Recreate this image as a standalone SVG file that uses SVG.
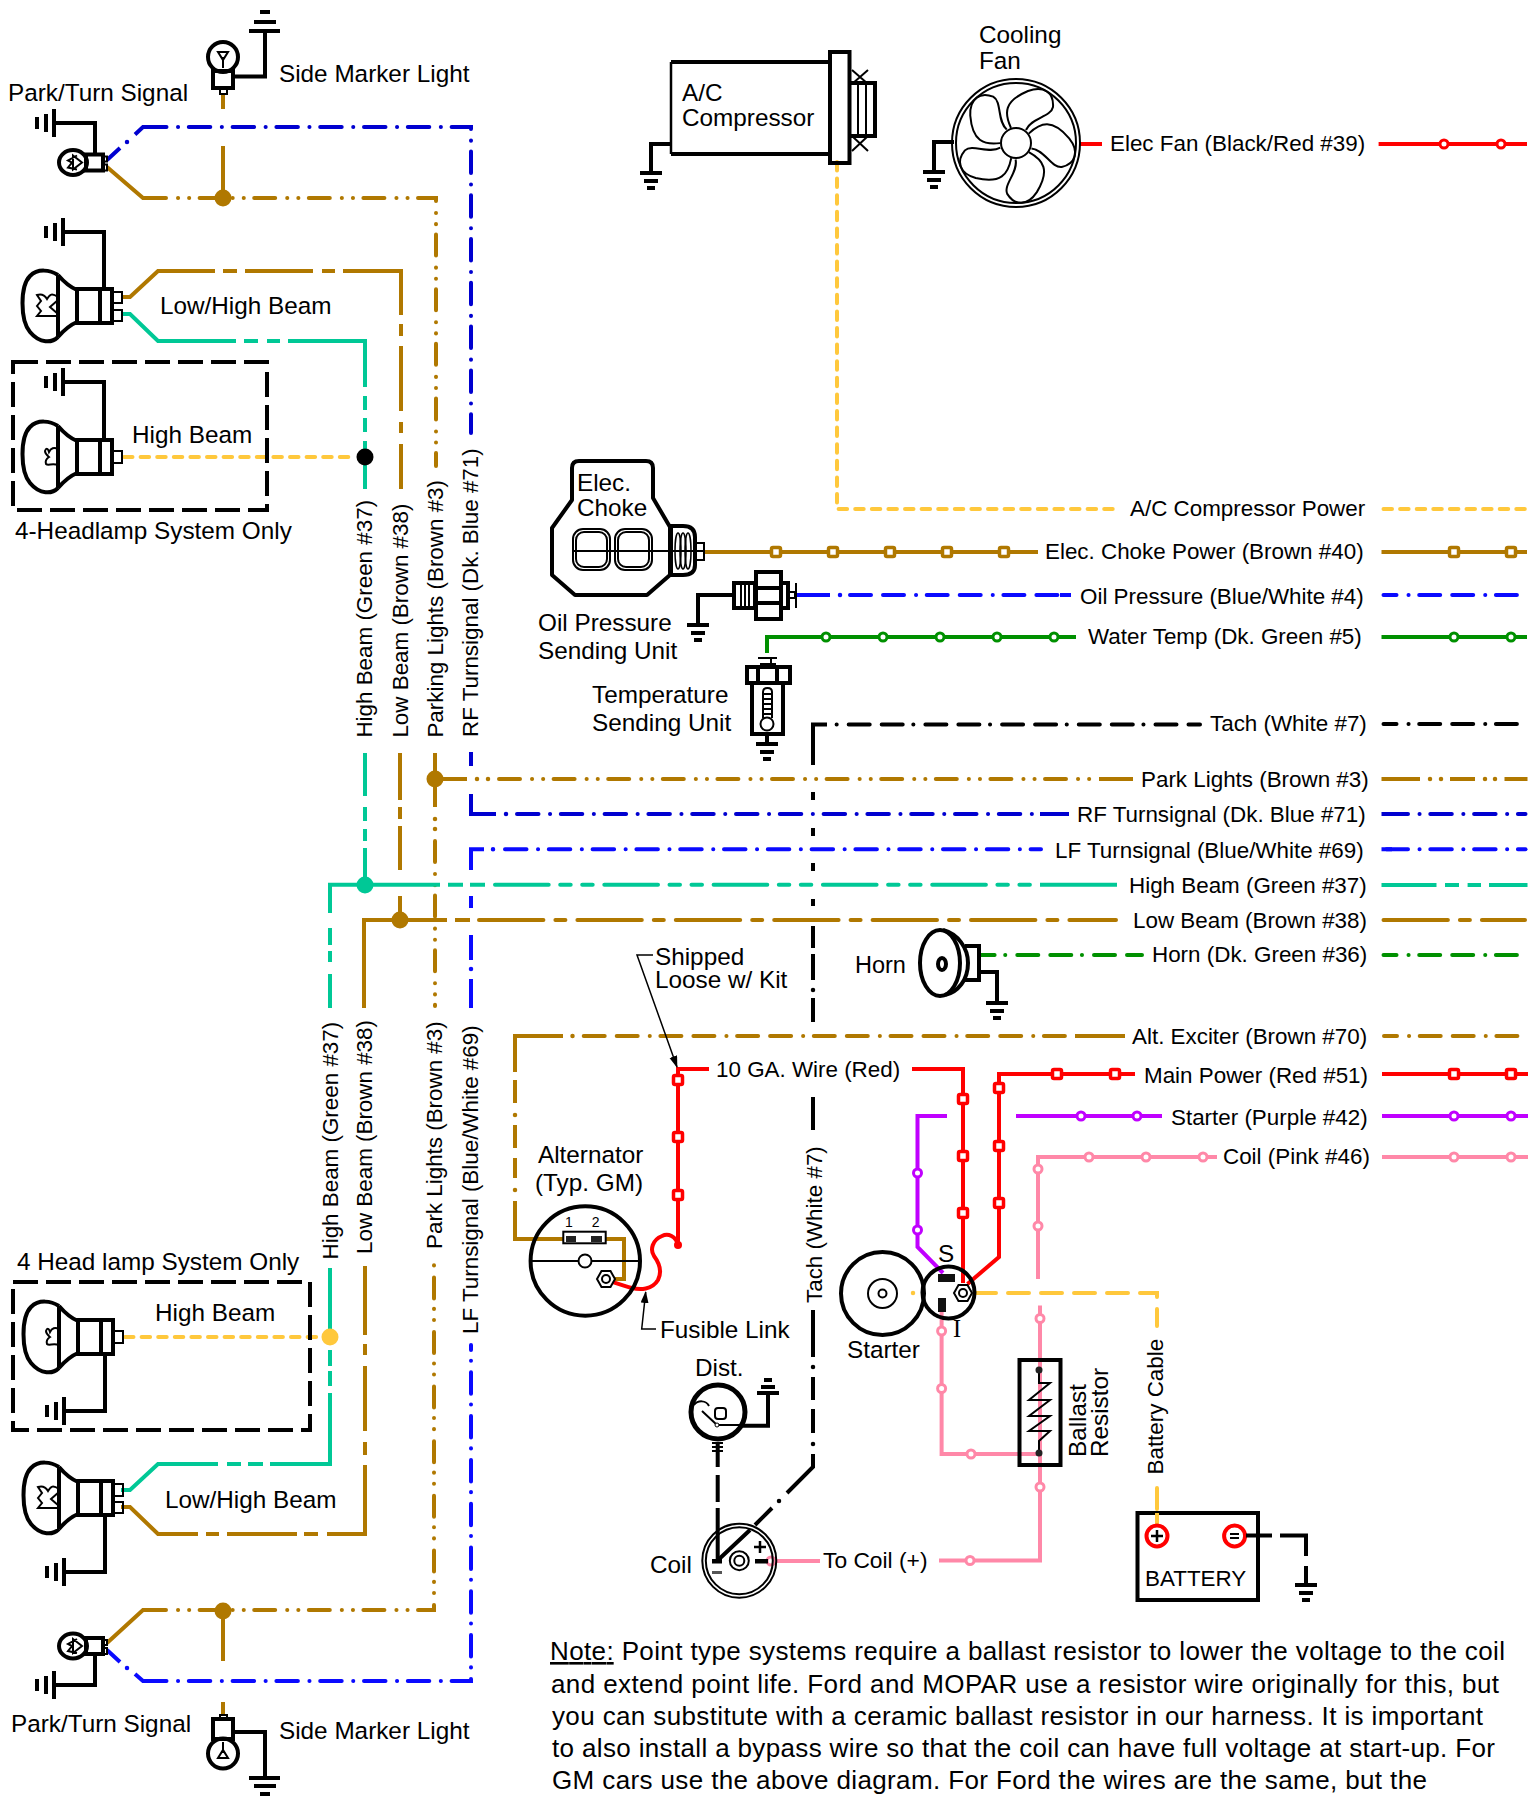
<svg xmlns="http://www.w3.org/2000/svg" width="1540" height="1798" viewBox="0 0 1540 1798">
<style>
text{font-family:"Liberation Sans",Arial,sans-serif;font-size:24.3px;fill:#000}
.s{font-size:22.4px}
.k{fill:none;stroke:#000;stroke-width:4}
.n{fill:none;stroke:#000;stroke-width:2}
.w{fill:none;stroke-width:4}
.d{fill:none;stroke-width:4.5;stroke-linecap:round}
.br{stroke:#B07800}.gn{stroke:#00C896}.ye{stroke:#FFC83C}.db{stroke:#0000D0}.bl{stroke:#0A0AFF}.dg{stroke:#009000}.re{stroke:#FF0000}.pu{stroke:#C000FF}.pk{stroke:#FF88A8}.bk{stroke:#000}
.p76{stroke-linecap:round;stroke-dasharray:21 12 21 12 .1 10.6}
.p44{stroke-linecap:round;stroke-dasharray:21.5 11.5 .1 10.7}
.p55{stroke-linecap:round;stroke-dasharray:21 12 .1 11 .1 10.4}
.p98{stroke-linecap:round;stroke-dasharray:64.4 12 10 12}
.p109{stroke-linecap:round;stroke-dasharray:53.7 11.5 10.5 11.5 10.5 11.6}
.py{stroke-linecap:round;stroke-dasharray:8.5 8.1}
.pb{stroke-linecap:round;stroke-dasharray:21 12}
</style>
<defs>
<g id="gd" class="k"><path d="M-11 0H11M-7 8H7M-4 15H4"/></g>
<g id="gl" class="k"><path d="M0 -14V14M-8 -9V9M-17 -6V6"/></g>
<rect id="sq" x="-4.500" y="-4.500" width="9" height="9" rx="1.500" fill="#fff" stroke-width="3.500"/>
<circle id="ci" r="4" fill="#fff" stroke-width="3"/>
<g id="lamp" class="k"><path d="M58 -31C50 -36 38 -38 30 -30C20 -20 20 14 30 26C40 38 52 37 58 31M58 -31V31M58 -31C64 -24 70 -19 77 -16M58 31C64 24 70 19 77 16"/><path d="M77 -17H112V17H77ZM100 -17V17"/></g>
<g id="filA" class="n"><path d="M58 -9C52 -13 50 -12 47 -7C44 -12 40 -12 37 -11L41 -5L37 0L41 5L37 10H58M58 -6L50 1L58 8"/></g>
<g id="filW" class="n"><path d="M58 -8C54 -10 51 -9 49 -5C48 -9 46 -9 45 -6C45 -3 48 -1 49 0C46 2 45 4 46 7C48 9 52 6 58 8"/></g>
<g id="pbulb"><ellipse cx="73" cy="0" rx="14" ry="12.500" class="k"/><path class="k" d="M86 -8H103V8H86Z"/><path class="n" d="M103 -6H107V-1H103M103 2H107V8H103M73 -7L82 0L73 7ZM77 -7L68 -2L72 0L68 5L77 7"/></g>
<g id="hex"><path d="M9 0L4.500 8H-4.500L-9 0L-4.500 -8H4.500Z" fill="#fff" stroke="#000" stroke-width="2"/><circle r="4" fill="none" stroke="#000" stroke-width="2"/></g>
<path id="blade" d="M-5 -15C-12 -30 -12 -42 12 -52C28 -58 38 -50 37 -36C35 -26 15 -25 10 -13"/>
<marker id="ah" markerWidth="12" markerHeight="10" refX="11" refY="4" orient="auto" markerUnits="userSpaceOnUse"><path d="M0 0L12 4L0 8Z" fill="#000"/></marker>
</defs>

<g id="connectors">
<!-- yellow -->
<path class="w ye py" d="M837 162V509H1117"/>
<path class="w ye py" d="M1383.500 509H1525"/>
<path class="w ye py" d="M124 457H355"/>
<path class="w ye py" d="M125 1337H320"/>
<path class="w ye pb" d="M975 1293H1157V1326"/>
<path class="w ye pb" d="M1157 1488V1526"/>
<path class="d ye" d="M913 1293h.01"/>
<!-- choke -->
<path class="w br" d="M703 552H1038M1381.500 552H1527"/>
<!-- oil -->
<path class="w bl" d="M795 595H830M1060 595H1071"/><path class="d bl" d="M840 595h.01"/>
<path class="w bl p76" d="M850 595H1058"/>
<path class="w bl p76" style="stroke-dashoffset:41" d="M1383.500 595H1517"/>
<!-- water -->
<path class="w dg" d="M767 653V637H1076M1381.500 637H1527"/>
<!-- tach -->
<path class="w bk p76" style="stroke-dashoffset:9.500" d="M1200 724.600H829"/>
<path class="w bk" d="M827 724.600H813V765M813 792V800M813 828V836M813 863V871M813 899V906M813 926V948M813 954V980M813 998V1022M813 1097V1130M813 1310V1357M813 1377V1400M813 1409V1433M813 1454V1467L787 1493M772 1508L755 1525M750 1530L717 1561"/>
<path class="d bk" d="M813 990h.01M813 1367h.01M813 1444h.01M779 1501h.01"/>
<path class="w bk p76" style="stroke-dashoffset:41" d="M1383.500 724H1517"/>
<path class="w bk" d="M717.700 1443V1467M717.700 1475V1502M717.700 1508V1561"/>
<!-- park lights -->
<path class="w br p55" d="M145 198H436V466"/>
<path class="w br" d="M107 167L143 198H147M223 94V109M223 146V198"/>
<path class="w br" d="M435 753V807M435 779H467M1099 779H1133"/><path class="d br" d="M435 819h.01M435 829h.01M477 779h.01M488 779h.01"/>
<path class="w br p55" d="M499 779H1097"/>
<path class="w br p55" d="M435 841V1006"/>
<path class="w br" d="M1381.500 779H1420M1450 779H1475M1504.500 779H1527.500"/><path class="d br" d="M1430 779h.01M1441 779h.01M1485 779h.01M1495 779h.01"/>
<path class="w br p55" d="M145 1610H434V1261"/>
<path class="w br" d="M107 1643L143 1610H147M223 1611V1661M223 1702V1715"/>
<!-- blue 71 -->
<path class="w db p44" d="M145 127H471V433"/>
<path class="w db" d="M107 160L120 148M135 134.500L143 127H147M471 752V766M471 794V814H496"/><path class="d db" d="M127 142h.01M506 814h.01"/>
<path class="w db p44" d="M517 814H1067"/>
<path class="w db" d="M1040 814H1069M1381.500 814H1392"/>
<path class="w db p44" style="stroke-dashoffset:40.800" d="M1383.500 814H1525.500"/>
<!-- LF 69 -->
<path class="w bl" d="M484 849.300H471V870M471 896V908M471 935V960M471 979V1008M1381.500 849.300H1392"/><path class="d bl" d="M493 849.300h.01M471 969h.01"/>
<path class="w bl p44" d="M505 849.300H1041"/>
<path class="w bl p44" style="stroke-dashoffset:40.800" d="M1383.500 849.300H1525.500"/>
<path class="w bl p44" d="M145 1681H471V1345"/>
<path class="w bl" d="M107 1650L120 1662M135 1674L143 1681H147"/><path class="d bl" d="M127 1668h.01"/>
<!-- high beam green -->
<path class="w gn" d="M121 314H130L158 341H236M244 341H258M267 341H280M288 341H365V387M365 396V410M365 418V432M365 441V489M365 753V796M365 807V821M365 829V841M365 848V885"/>
<path class="w gn" d="M330 1008V974M330 962V951M330 945V928M330 913V884.700H440M448 884.700H463M470 884.700H485M1040 884.700H1117"/>
<path class="w gn p109" d="M495 884.700H1038"/>
<path class="w gn" d="M1381.500 885H1436.500M1445 885H1459M1467.600 885H1481M1489 885H1527.500"/>
<path class="w gn" d="M330 1268V1340M330 1350V1366M330 1371V1386M330 1393V1464H270M263 1464H248M241 1464H227M218 1464H158L130 1490H121"/>
<!-- low beam brown -->
<path class="w br" d="M121 297H130L158 271H215M223 271H237M245 271H313M322 271H335M343 271H401V315M401 324V336M401 346V411M401 422V433M401 444V489"/>
<path class="w br" d="M400 753V800M400 807V819M400 826V870M400 896V920M364 1008V920H447M455 920H470"/>
<path class="w br p98" d="M479 920H1116"/>
<path class="w br p98" d="M1383.500 920H1525"/>
<path class="w br" d="M121 1507H130L158 1534H198M206 1534H219M227 1534H297M304 1534H318M327 1534H365V1465M365 1455V1442M365 1431V1366M365 1355V1344M365 1335V1266"/>
<!-- horn -->
<path class="w dg p76" style="stroke-dashoffset:6" d="M1142 955H979"/>
<path class="w dg p76" style="stroke-dashoffset:41" d="M1383.500 955H1517"/>
<!-- alt exciter -->
<path class="w br" d="M563 1239H515V1201M515 1178V1158M515 1148V1125M515 1103V1080M515 1072V1036H563M1075 1036H1125M602 1239H624V1279H615"/><path class="d br" d="M515 1190h.01M515 1115h.01M572.500 1036h.01"/>
<path class="w br p76" d="M583.700 1036H1073"/>
<path class="w br p76" style="stroke-dashoffset:41" d="M1384 1036H1518"/>
<!-- red -->
<path class="w re" d="M1080 144H1102M1378.600 144H1527"/>
<path class="w re" d="M709 1069H678V1245M912 1069H963V1283M1135 1074H999V1257L967.500 1284M1382 1074H1528"/>
<path class="w re" d="M678 1245C676 1236 668 1233 662 1236C652 1240 650 1250 654 1256C660 1264 662 1272 658 1280C652 1290 640 1290 632 1288C624 1286 616 1283 610 1281"/>
<circle cx="678" cy="1245" r="4" fill="#FF0000"/>
<!-- purple -->
<path class="w pu" d="M947 1116H917.500V1247L943 1273M1016 1116H1162M1382 1116H1528"/>
<!-- pink -->
<path class="w pk" d="M1217 1157H1038V1279M1040 1305.500V1560.500H939M941.600 1310V1454H1040M1382 1157H1528M820 1561H768"/>
</g>

<g id="wire-markers">
<g class="br"><use href="#sq" x="776" y="552"/><use href="#sq" x="833" y="552"/><use href="#sq" x="890" y="552"/><use href="#sq" x="947" y="552"/><use href="#sq" x="1004" y="552"/><use href="#sq" x="1454" y="552"/><use href="#sq" x="1511" y="552"/></g>
<g class="dg"><use href="#ci" x="826" y="637"/><use href="#ci" x="883" y="637"/><use href="#ci" x="940" y="637"/><use href="#ci" x="997" y="637"/><use href="#ci" x="1054" y="637"/><use href="#ci" x="1454" y="637"/><use href="#ci" x="1511" y="637"/></g>
<g class="re"><use href="#ci" x="1444" y="144"/><use href="#ci" x="1501" y="144"/><use href="#sq" x="678" y="1080"/><use href="#sq" x="678" y="1137"/><use href="#sq" x="678" y="1195"/><use href="#sq" x="963" y="1099"/><use href="#sq" x="963" y="1156"/><use href="#sq" x="963" y="1213"/><use href="#sq" x="1057" y="1074"/><use href="#sq" x="1115" y="1074"/><use href="#sq" x="999" y="1088"/><use href="#sq" x="999" y="1146"/><use href="#sq" x="999" y="1203"/><use href="#sq" x="1454" y="1074"/><use href="#sq" x="1511" y="1074"/></g>
<g class="pu"><use href="#ci" x="1081" y="1116"/><use href="#ci" x="1137" y="1116"/><use href="#ci" x="917.500" y="1173"/><use href="#ci" x="917.500" y="1230"/><use href="#ci" x="1454" y="1116"/><use href="#ci" x="1511" y="1116"/></g>
<g class="pk"><use href="#ci" x="1089" y="1157"/><use href="#ci" x="1146" y="1157"/><use href="#ci" x="1203" y="1157"/><use href="#ci" x="1038" y="1169"/><use href="#ci" x="1038" y="1226"/><use href="#ci" x="1040" y="1318.500"/><use href="#ci" x="941.600" y="1331"/><use href="#ci" x="941.600" y="1388.500"/><use href="#ci" x="971" y="1454"/><use href="#ci" x="1040" y="1487"/><use href="#ci" x="970" y="1560.500"/><use href="#ci" x="771" y="1561"/><use href="#ci" x="1454" y="1157"/><use href="#ci" x="1511" y="1157"/></g>
<circle cx="223" cy="198" r="8.500" fill="#B07800"/><circle cx="223" cy="1611" r="8.500" fill="#B07800"/>
<circle cx="435" cy="779" r="8.500" fill="#B07800"/><circle cx="400" cy="920" r="8.500" fill="#B07800"/>
<circle cx="365" cy="885" r="8.500" fill="#00C896"/><circle cx="365" cy="457" r="8.500" fill="#000"/>
<circle cx="330" cy="1337" r="8.500" fill="#FFC83C"/>
</g>

<g id="side-marker-top">
<circle cx="223" cy="57" r="15" class="k"/><rect x="213" y="71" width="20" height="17" class="k" fill="#fff"/><path class="n" d="M220 88V94H227V88M223 68V57M218 52H228L223 60Z"/>
<path class="k" d="M233 76.500H265V31M249 31H280M254 22H276M260 12H270"/>
<text x="279" y="82">Side Marker Light</text>
</g>
<g id="park-turn-top">
<use href="#pbulb" y="162.500"/><path class="k" d="M54 123H95V155"/><use href="#gl" x="54" y="123"/>
<text x="8" y="101">Park/Turn Signal</text>
</g>
<g id="low-high-top">
<use href="#lamp" y="306"/><use href="#filA" y="306"/><path class="n" d="M112 292H122V303H112M112 310H122V321H112"/>
<path class="k" d="M63 232H104V289"/><use href="#gl" x="63" y="232"/>
<text x="160" y="314">Low/High Beam</text>
</g>
<g id="high-beam-top">
<rect x="13" y="362" width="254" height="148" class="k" stroke-dasharray="25 8"/>
<use href="#lamp" y="457"/><use href="#filW" y="457"/><path class="n" d="M112 451H122V463H112"/>
<path class="k" d="M63 382H104V440"/><use href="#gl" x="63" y="382"/>
<text x="132" y="443">High Beam</text>
<text x="15" y="539">4-Headlamp System Only</text>
</g>

<g id="ac-compressor">
<path class="k" d="M671 62H828M671 154H828"/><path d="M671 62V154" stroke="#000" stroke-width="2.500"/>
<rect x="830" y="52" width="19.500" height="111" class="k"/>
<path class="k" d="M850 83H875V136H850"/><path class="n" d="M858 83V136M866 83V136M852 70L868 84M868 70L852 84M852 136L868 151M868 136L852 151"/>
<path class="k" d="M671 144H651V173"/><use href="#gd" x="651" y="173"/>
<text x="682" y="101">A/C</text><text x="682" y="126">Compressor</text>
</g>
<g id="cooling-fan">
<circle cx="1016" cy="143" r="64" class="n"/><circle cx="1016" cy="143" r="60" class="n"/><circle cx="1016" cy="143" r="15" class="n"/>
<g class="n" transform="translate(1016 143)"><use href="#blade"/><use href="#blade" transform="rotate(72)"/><use href="#blade" transform="rotate(144)"/><use href="#blade" transform="rotate(216)"/><use href="#blade" transform="rotate(288)"/></g>
<path class="k" d="M954 142H934V172"/><use href="#gd" x="934" y="172"/>
<text x="979" y="43">Cooling</text><text x="979" y="69">Fan</text>
</g>
<g id="elec-choke">
<path class="k" stroke-linejoin="round" d="M572 468Q572 461 579 461H646Q653 461 653 468V498L670 527V575L647 595H575L552 575V528L572 500Z"/>
<path class="k" d="M671 526H683Q695 526 695 537V565Q695 575 683 575H671Z"/>
<g fill="none" stroke="#000" stroke-width="1.500"><ellipse cx="678" cy="551" rx="3" ry="18"/><ellipse cx="683" cy="551" rx="3" ry="18"/><ellipse cx="688" cy="551" rx="3" ry="18"/></g>
<rect x="573" y="529" width="37" height="41" rx="10" class="n"/><rect x="576" y="532" width="31" height="35" rx="8" class="n"/>
<rect x="615" y="529" width="37" height="41" rx="10" class="n"/><rect x="618" y="532" width="31" height="35" rx="8" class="n"/>
<path class="n" d="M573 551H704M697 543H704V560H697M704 543V561"/>
<text x="577" y="491">Elec.</text><text x="577" y="516">Choke</text>
</g>
<g id="oil-unit">
<path class="k" d="M734 583H755V608H734ZM756 572H781V619H756ZM756 588H781M756 603H781M781 583H788V608H781Z"/>
<path class="n" d="M741 585V606M745 585V606M749 585V606M788 592H795V598H788M796 583V608"/>
<path class="k" d="M734 595H698V625"/><use href="#gd" x="698" y="625"/>
<text x="538" y="631">Oil Pressure</text><text x="538" y="659">Sending Unit</text>
</g>
<g id="temp-unit">
<path class="n" d="M758 658H777M761 664H775V667H761ZM763 658H771V664"/>
<path class="k" d="M747 667H790V683H747ZM758 667V683M777 667V683M752 683H783V734H752Z"/>
<path class="n" d="M763 718V692Q763 688 767.500 688Q772 688 772 692V718M763 694H772M763 699H772M763 704H772M763 709H772M763 714H772"/><circle cx="767" cy="724" r="6.500" class="n"/>
<path class="k" d="M767 734V744"/><use href="#gd" x="767" y="744"/>
<text x="592" y="703">Temperature</text><text x="592" y="731">Sending Unit</text>
</g>
<g id="horn">
<ellipse cx="940" cy="963" rx="20" ry="33" class="k"/><path class="k" d="M943 930C958 934 968 948 968 963C968 980 958 992 945 995"/><path class="k" d="M965 946H979V980H965"/>
<ellipse cx="942" cy="964" rx="4" ry="6" class="k"/>
<path class="k" d="M979 972H997V1003"/><use href="#gd" x="997" y="1003"/>
<text x="855" y="973" style="font-size:23.500px">Horn</text>
</g>
<g id="shipped-note">
<path fill="none" stroke="#000" stroke-width="1.500" marker-end="url(#ah)" d="M653 955H637L677 1067"/>
<text x="655" y="965">Shipped</text><text x="655" y="988">Loose w/ Kit</text>
<text x="716" y="1077" class="s">10 GA. Wire (Red)</text>
</g>
<g id="alternator">
<circle cx="585.300" cy="1261" r="54.700" class="k"/><path class="n" d="M531 1261H640"/><circle cx="585" cy="1261" r="6.500" fill="#fff" stroke="#000" stroke-width="2"/>
<rect x="563.300" y="1231.700" width="42.400" height="11.600" fill="#fff" stroke="#000" stroke-width="2"/>
<rect x="566" y="1236" width="10" height="6" fill="#222"/><rect x="591" y="1236" width="11" height="6" fill="#222"/>
<text x="569" y="1227" text-anchor="middle" style="font-size:14px">1</text><text x="595.700" y="1227" text-anchor="middle" style="font-size:14px">2</text>
<use href="#hex" x="606" y="1279"/>
<text x="538" y="1163">Alternator</text><text x="535" y="1191">(Typ. GM)</text>
<path fill="none" stroke="#000" stroke-width="1.500" marker-end="url(#ah)" d="M656 1329H641.700L645.700 1292"/>
<text x="660" y="1338">Fusible Link</text>
</g>
<g id="starter">
<circle cx="882.500" cy="1293.500" r="41.500" class="k"/><circle cx="882.500" cy="1293.500" r="14.500" class="n"/><circle cx="882.500" cy="1293.500" r="4" class="n"/>
<circle cx="948.500" cy="1292.500" r="26" class="k"/>
<rect x="938" y="1274" width="17" height="8" fill="#111"/><rect x="938" y="1298" width="8" height="14" fill="#111"/>
<use href="#hex" x="963" y="1293"/>
<text x="938" y="1262">S</text><text x="953" y="1337" style="font-family:'Liberation Serif',serif">I</text>
<text x="847" y="1358">Starter</text>
</g>
<g id="ballast-resistor">
<rect x="1019.500" y="1360" width="41" height="105" class="k"/>
<path class="n" d="M1039 1370V1383H1050L1029 1400H1050L1029 1416H1050L1029 1431H1050L1039 1441V1453"/>
<circle cx="1039" cy="1370" r="3.500" fill="#222"/><circle cx="1039" cy="1453" r="3.500" fill="#222"/>
<text transform="translate(1085.500 1457) rotate(-90)">Ballast</text><text transform="translate(1107.700 1457) rotate(-90)">Resistor</text>
</g>
<g id="battery">
<rect x="1137.500" y="1513" width="120.500" height="87" class="k"/>
<path class="w ye" d="M1157 1513V1526"/>
<circle cx="1157" cy="1536" r="10.500" fill="#fff" stroke="#FF0000" stroke-width="4"/><circle cx="1234.600" cy="1536" r="10.500" fill="#fff" stroke="#FF0000" stroke-width="4"/>
<path class="k" style="stroke-width:2.500" d="M1151 1536H1163M1157 1530V1542"/><path class="n" d="M1230 1534H1239M1230 1538H1239"/>
<text x="1145" y="1586" style="font-size:22.400px">BATTERY</text>
<path class="k" d="M1246 1535.600H1272M1280 1535.600H1306V1556M1306 1566V1585"/><use href="#gd" x="1306" y="1585"/>
</g>
<g id="distributor">
<circle cx="718" cy="1412" r="27" fill="none" stroke="#000" stroke-width="5"/>
<rect x="715" y="1408" width="11" height="11" rx="3" class="n"/><path class="n" d="M702 1411L717 1425L740 1425M694 1405C698 1400 706 1400 709 1406"/><circle cx="717" cy="1425" r="2" fill="#fff" stroke="#000"/>
<path class="k" d="M743 1425.700H768V1393"/><path class="k" d="M757 1393H779M761 1387H775M764 1380H772"/>
<path class="n" d="M712 1443H723M712 1447H723M712 1451H723"/>
<text x="695" y="1376">Dist.</text>
</g>
<g id="coil">
<circle cx="739.300" cy="1560.700" r="37" class="n"/><circle cx="739.300" cy="1560.700" r="33.500" class="n"/><circle cx="739.300" cy="1560.700" r="9.500" class="n"/><circle cx="739.300" cy="1560.700" r="5" class="n"/>
<rect x="712" y="1559" width="10" height="4.500" fill="#000"/><rect x="712" y="1571" width="10" height="3" fill="#555"/>
<rect x="755" y="1559" width="13" height="4.500" fill="#000"/><path d="M754 1547H766M760 1541V1553" stroke="#000" stroke-width="2.500"/>
<text x="650" y="1573">Coil</text>
<text x="823" y="1568" style="font-size:22.800px">To Coil (+)</text>
</g>

<g id="low-headlamps">
<text x="17" y="1270">4 Head lamp System Only</text>
<rect x="13" y="1282" width="297" height="148" class="k" stroke-dasharray="25 8"/>
<g transform="translate(1 1337)"><use href="#lamp"/><use href="#filW"/><path class="n" d="M112 -6H122V6H112"/></g>
<path class="k" d="M105 1354V1411H64"/><use href="#gl" x="64" y="1411"/>
<text x="155" y="1321">High Beam</text>
<g transform="translate(1 1498)"><use href="#lamp"/><use href="#filA"/><path class="n" d="M112 -14H122V-2H112M112 4H122V15H112"/></g>
<path class="k" d="M105 1515V1572H64"/><use href="#gl" x="64" y="1572"/>
<text x="165" y="1508">Low/High Beam</text>
</g>
<g id="park-turn-bottom">
<use href="#pbulb" y="1646"/><path class="k" d="M95 1654V1685H54"/><use href="#gl" x="54" y="1685"/>
<text x="11" y="1732">Park/Turn Signal</text>
</g>
<g id="side-marker-bottom">
<circle cx="223" cy="1753.500" r="15" class="k"/><rect x="213" y="1719" width="20" height="20" class="k" fill="#fff"/><path class="n" d="M220 1719V1715H227V1719M223 1742V1753M218 1758H228L223 1750Z"/>
<path class="k" d="M233 1732H265V1778M249 1778H280M254 1786H276M260 1794H270"/>
<text x="279" y="1739">Side Marker Light</text>
</g>

<g id="labels">
<text x="1110" y="151" class="s">Elec Fan (Black/Red #39)</text>
<text x="1130" y="516" class="s">A/C Compressor Power</text>
<text x="1045" y="559" class="s">Elec. Choke Power (Brown #40)</text>
<text x="1080" y="604" class="s">Oil Pressure (Blue/White #4)</text>
<text x="1088" y="644" class="s">Water Temp (Dk. Green #5)</text>
<text x="1210" y="731" class="s">Tach (White #7)</text>
<text x="1141" y="787" class="s">Park Lights (Brown #3)</text>
<text x="1077" y="822" class="s">RF Turnsignal (Dk. Blue #71)</text>
<text x="1055" y="858" class="s">LF Turnsignal (Blue/White #69)</text>
<text x="1129" y="893" class="s">High Beam (Green #37)</text>
<text x="1133" y="928" class="s">Low Beam (Brown #38)</text>
<text x="1152" y="962" class="s">Horn (Dk. Green #36)</text>
<text x="1132" y="1044" class="s">Alt. Exciter (Brown #70)</text>
<text x="1144" y="1083" class="s">Main Power (Red #51)</text>
<text x="1171" y="1125" class="s">Starter (Purple #42)</text>
<text x="1223" y="1163.500" class="s">Coil (Pink #46)</text>
<text transform="translate(372.300 737.600) rotate(-90)" class="s">High Beam (Green #37)</text>
<text transform="translate(408 737.600) rotate(-90)" class="s">Low Beam (Brown #38)</text>
<text transform="translate(443 737.600) rotate(-90)" class="s">Parking Lights (Brown #3)</text>
<text transform="translate(478 737) rotate(-90)" class="s">RF Turnsignal (Dk. Blue #71)</text>
<text transform="translate(338 1259.500) rotate(-90)" class="s">High Beam (Green #37)</text>
<text transform="translate(371.700 1254) rotate(-90)" class="s">Low Beam (Brown #38)</text>
<text transform="translate(441.700 1249) rotate(-90)" class="s">Park Lights (Brown #3)</text>
<text transform="translate(478 1334) rotate(-90)" class="s">LF Turnsignal (Blue/White #69)</text>
<text transform="translate(821.700 1303) rotate(-90)" class="s">Tach (White #7)</text>
<text transform="translate(1163 1474.500) rotate(-90)" class="s">Battery Cable</text>
</g>
<g id="note">
<text x="550" y="1660" textLength="955" style="font-size:26px"><tspan text-decoration="underline">Note:</tspan> Point type systems require a ballast resistor to lower the voltage to the coil</text>
<text x="551" y="1692.500" textLength="948" style="font-size:26px">and extend point life. Ford and MOPAR use a resistor wire originally for this, but</text>
<text x="552" y="1725" textLength="931" style="font-size:26px">you can substitute with a ceramic ballast resistor in our harness. It is important</text>
<text x="552" y="1757" textLength="943" style="font-size:26px">to also install a bypass wire so that the coil can have full voltage at start-up. For</text>
<text x="552" y="1789" textLength="875" style="font-size:26px">GM cars use the above diagram. For Ford the wires are the same, but the</text>
</g>
</svg>
